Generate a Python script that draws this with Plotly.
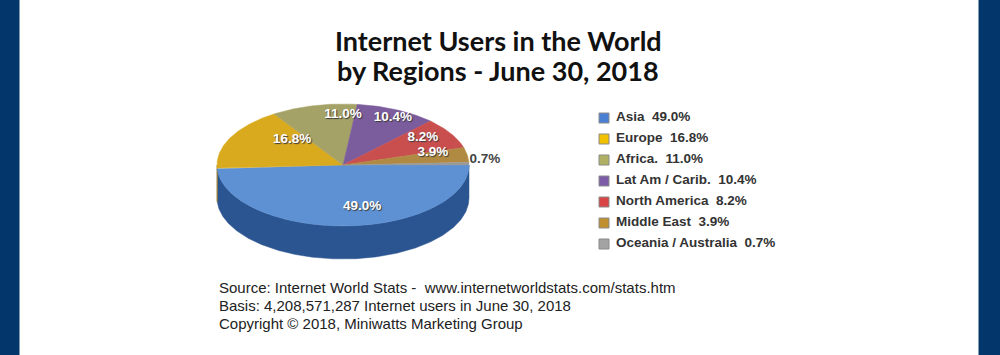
import numpy as np
import plotly.graph_objects as go

# ---------------- data ----------------
regions = ["Asia", "Europe", "Africa.", "Lat Am / Carib.", "North America", "Middle East", "Oceania / Australia"]
shares = [49.0, 16.8, 11.0, 10.4, 8.2, 3.9, 0.7]
title_lines = ["Internet Users in the World", "by Regions - June 30, 2018"]
footer_lines = [
    "Source: Internet World Stats -  www.internetworldstats.com/stats.htm",
    "Basis: 4,208,571,287 Internet users in June 30, 2018",
    "Copyright \u00a9 2018, Miniwatts Marketing Group",
]

# ---------------- style ----------------
top_colors = ["#5d91d3", "#d9aa1e", "#a4a266", "#7b5c9c", "#c94f4e", "#b08a42", "#9a9a9a"]
side_colors = ["#2b5591", "#a37d10", "#7a7840", "#574070", "#8f3433", "#7f6229", "#6e6e6e"]
legend_colors = ["#4a80d4", "#f2c200", "#b0b064", "#7c5ca8", "#d94444", "#c09030", "#a3a3a3"]
label_angle_shift = [-10.6, 18.8, 13.3, 2.0, -3.6, -6.0, -3.0]
label_radius = [0.705, 0.576, 0.82, 0.867, 0.774, 0.741, 1.13]
label_inside = [True, True, True, True, True, True, False]

W, H = 1000, 355
cx, cy, rx, ry, depth = 343.0, 165.0, 126.0, 61.0, 33.0
navy = "#03376b"


def arc(a1, a2, yc, n=None):
    n = n or max(4, int(abs(a2 - a1) * 1.5))
    t = np.radians(np.linspace(a1, a2, n))
    return cx + rx * np.cos(t), yc + ry * np.sin(t)


fig = go.Figure()

total = sum(shares)
bounds = np.concatenate([[0.0], np.cumsum(shares) / total * 360.0])

# side walls (front half only: 0..180 deg clockwise from 3 o'clock)
for i in range(len(shares)):
    a1, a2 = max(bounds[i], 0.0), min(bounds[i + 1], 180.0)
    if a2 > a1:
        xt, yt = arc(a1, a2, cy)
        xb, yb = arc(a2, a1, cy + depth)
        fig.add_trace(go.Scatter(
            x=np.concatenate([xt, xb, xt[:1]]), y=np.concatenate([yt, yb, yt[:1]]),
            mode="lines", fill="toself", fillcolor=side_colors[i],
            line=dict(color=side_colors[i], width=0.5), hoverinfo="skip", showlegend=False))

# top faces
for i in range(len(shares)):
    xa, ya = arc(bounds[i], bounds[i + 1], cy)
    fig.add_trace(go.Scatter(
        x=np.concatenate([[cx], xa, [cx]]), y=np.concatenate([[cy], ya, [cy]]),
        mode="lines", fill="toself", fillcolor=top_colors[i],
        line=dict(color=top_colors[i], width=0.5),
        name=regions[i], text=f"{shares[i]:.1f}%", hoverinfo="name+text", showlegend=False))

# slice labels
mids = (bounds[:-1] + bounds[1:]) / 2.0
for i in range(len(shares)):
    a = np.radians(mids[i] + label_angle_shift[i])
    lx = cx + rx * label_radius[i] * np.cos(a)
    ly = cy + ry * label_radius[i] * np.sin(a)
    if label_inside[i]:
        tf = dict(family="Liberation Sans, Arial", size=13.5, color="white",
                  weight="bold", shadow="1px 1px 1px #3a3a3a")
    else:
        tf = dict(family="Liberation Sans, Arial", size=13.5, color="#444444", weight="bold")
    fig.add_trace(go.Scatter(x=[lx], y=[ly], mode="text", text=[f"{shares[i]:.1f}%"],
                             textposition="middle center", textfont=tf,
                             hoverinfo="skip", showlegend=False))

# legend
leg_x, leg_y0, leg_dy = 604, 118, 21.0
ly_list = [leg_y0 + k * leg_dy for k in range(len(regions))]
fig.add_trace(go.Scatter(
    x=[leg_x] * len(regions), y=ly_list, mode="markers",
    marker=dict(symbol="square", size=10, color=legend_colors,
                line=dict(color="#8a8a8a", width=1)),
    hoverinfo="skip", showlegend=False))
fig.add_trace(go.Scatter(
    x=[leg_x + 12] * len(regions), y=ly_list, mode="text",
    text=[f"{r}  {s:.1f}%" for r, s in zip(regions, shares)],
    textposition="middle right",
    textfont=dict(family="Liberation Sans, Arial", size=13.5, color="#333333", weight="bold"),
    hoverinfo="skip", showlegend=False))

annotations = []
for k, line in enumerate(title_lines):
    annotations.append(dict(x=498, y=40 + k * 30, xref="x", yref="y", text=f"<b>{line}</b>",
                            showarrow=False, xanchor="center", yanchor="middle",
                            font=dict(family="Lato", size=27, color="#111111")))
for k, line in enumerate(footer_lines):
    annotations.append(dict(x=217, y=287 + k * 18.3, xref="x", yref="y", text=line,
                            showarrow=False, xanchor="left", yanchor="middle",
                            font=dict(family="Liberation Sans, Arial", size=15, color="#222222")))

fig.update_layout(
    width=W, height=H,
    margin=dict(l=0, r=0, t=0, b=0),
    paper_bgcolor=navy, plot_bgcolor=navy,
    xaxis=dict(range=[0, W], visible=False, fixedrange=True),
    yaxis=dict(range=[H, 0], visible=False, fixedrange=True),
    shapes=[dict(type="rect", xref="x", yref="y", x0=19.5, x1=978.5, y0=-5, y1=H + 5,
                 fillcolor="white", line=dict(width=0), layer="below")],
    annotations=annotations,
    showlegend=False,
)

fig.write_html(
    "out.html",
    config={"displayModeBar": False},
    post_script="document.body.style.margin='0';document.body.style.overflow='hidden';"
                "document.body.style.background='" + navy + "';",
)
